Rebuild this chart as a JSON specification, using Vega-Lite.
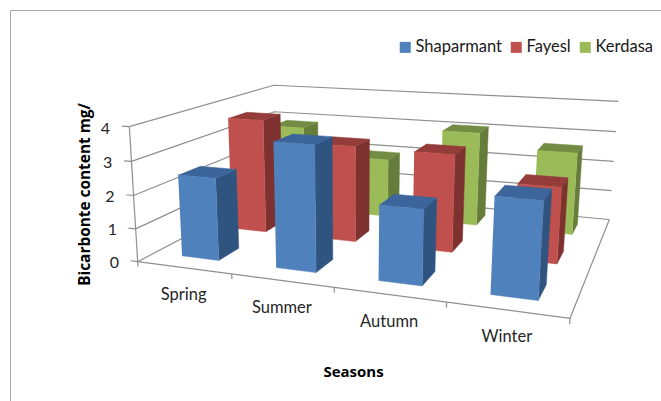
{
  "$schema": "https://vega.github.io/schema/vega-lite/v6.json",
  "width": 651,
  "height": 391,
  "autosize": "none",
  "padding": {"left": 10, "top": 10, "right": 0, "bottom": 0},
  "background": "white",
  "view": {"stroke": "#a6a6a6", "strokeWidth": 1, "fill": "white"},
  "config": {"font": "Lato"},
  "datasets": {
    "bars": [
      {"season": "Spring", "series": "Kerdasa", "value": 2.88},
      {"season": "Summer", "series": "Kerdasa", "value": 1.97},
      {"season": "Autumn", "series": "Kerdasa", "value": 3.08},
      {"season": "Winter", "series": "Kerdasa", "value": 2.64},
      {"season": "Spring", "series": "Fayesl", "value": 3.65},
      {"season": "Summer", "series": "Fayesl", "value": 3.02},
      {"season": "Autumn", "series": "Fayesl", "value": 2.99},
      {"season": "Winter", "series": "Fayesl", "value": 2.27},
      {"season": "Spring", "series": "Shaparmant", "value": 2.47},
      {"season": "Summer", "series": "Shaparmant", "value": 3.66},
      {"season": "Autumn", "series": "Shaparmant", "value": 2.14},
      {"season": "Winter", "series": "Shaparmant", "value": 2.66}
    ],
    "ticks": [{"tick": 0}, {"tick": 1}, {"tick": 2}, {"tick": 3}, {"tick": 4}]
  },
  "encoding": {
    "x": {"field": "sx", "type": "quantitative", "scale": {"domain": [10, 661], "nice": false, "zero": false},
      "axis": {"domain": false, "ticks": false, "labels": false, "grid": false, "title": "Seasons", "titleFont": "Open Sans", "titleFontSize": 15, "titleFontWeight": "bold", "titleColor": "#000000", "titleX": 343, "titleY": -37, "titleAnchor": "middle", "titleAlign": "center"}},
    "y": {"field": "sy", "type": "quantitative", "scale": {"domain": [401, 10], "nice": false, "zero": false},
      "axis": {"domain": false, "ticks": false, "labels": false, "grid": false, "title": "Bicarbonte content mg/", "titleFont": "Open Sans", "titleFontSize": 15.4, "titleFontWeight": "bold", "titleColor": "#000000", "titleX": 82, "titleY": 184, "titleAngle": 270, "titleAlign": "center"}}
  },
  "layer": [
    {
      "data": {"name": "ticks"},
      "transform": [
        {"calculate": "[{s:'wall',p:0,x:0,z:0,v:datum.tick},{s:'wall',p:1,x:0,z:1,v:datum.tick},{s:'wall',p:2,x:1,z:1,v:datum.tick},{s:'vtick',p:0,x:0,z:0,v:datum.tick},{s:'vtick',p:1,x:-0.02,z:0,v:datum.tick},{s:'xtick',p:0,x:datum.tick/4,z:0,v:0},{s:'xtick',p:1,x:datum.tick/4,z:0,v:-0.15},{s:'axis',p:0,x:0,z:0,v:0},{s:'axis',p:1,x:0,z:0,v:4},{s:'floor',p:0,x:0,z:0,v:0},{s:'floor',p:1,x:1,z:0,v:0},{s:'floor',p:2,x:1,z:1,v:0}]", "as": "seg"},
        {"flatten": ["seg"]},
        {"filter": "(datum.seg.s!='floor'&&datum.seg.s!='axis')||datum.tick==0"},
        {"calculate": "datum.seg.s+datum.tick", "as": "key"},
        {"calculate": "datum.seg.p", "as": "p"},
        {"calculate": "datum.seg.x", "as": "px"},
        {"calculate": "datum.seg.z", "as": "pz"},
        {"calculate": "datum.seg.v", "as": "pv"},
        {"calculate": "1-0.166*datum.px+0.3165*datum.pz-0.009455*datum.pv", "as": "w"},
        {"calculate": "(137.7+337.7*datum.px+225.7*datum.pz-3.319*datum.pv)/datum.w", "as": "sx"},
        {"calculate": "(261.7+3.76*datum.px-12.9*datum.pz-34.95*datum.pv)/datum.w", "as": "sy"}
      ],
      "mark": {"type": "line", "stroke": "#8f8f8f", "strokeWidth": 1.2, "clip": false},
      "encoding": {
        "detail": {"field": "key"},
        "order": {"field": "p", "type": "quantitative"}
      }
    },
    {
      "data": {"name": "bars"},
      "transform": [
        {"calculate": "indexof(['Spring','Summer','Autumn','Winter'],datum.season)", "as": "i"},
        {"calculate": "indexof(['Shaparmant','Fayesl','Kerdasa'],datum.series)", "as": "j"},
        {"calculate": "[{f:'side',k:0,a:1,b:0,c:0},{f:'side',k:1,a:1,b:1,c:0},{f:'side',k:2,a:1,b:1,c:1},{f:'side',k:3,a:1,b:0,c:1},{f:'top',k:0,a:0,b:0,c:1},{f:'top',k:1,a:1,b:0,c:1},{f:'top',k:2,a:1,b:1,c:1},{f:'top',k:3,a:0,b:1,c:1},{f:'front',k:0,a:0,b:0,c:0},{f:'front',k:1,a:1,b:0,c:0},{f:'front',k:2,a:1,b:0,c:1},{f:'front',k:3,a:0,b:0,c:1}]", "as": "corner"},
        {"flatten": ["corner"]},
        {"calculate": "datum.corner.k", "as": "k"},
        {"calculate": "datum.series+' '+datum.corner.f", "as": "shade"},
        {"calculate": "datum.season+' '+datum.series+' '+datum.corner.f", "as": "face"},
        {"calculate": "(datum.i+0.3+0.4*datum.corner.a)/4", "as": "px"},
        {"calculate": "(datum.j+0.3+0.4*datum.corner.b)/3", "as": "pz"},
        {"calculate": "datum.value*datum.corner.c", "as": "pv"},
        {"calculate": "1-0.166*datum.px+0.3165*datum.pz-0.009455*datum.pv", "as": "w"},
        {"calculate": "(137.7+337.7*datum.px+225.7*datum.pz-3.319*datum.pv)/datum.w", "as": "sx"},
        {"calculate": "(261.7+3.76*datum.px-12.9*datum.pz-34.95*datum.pv)/datum.w", "as": "sy"}
      ],
      "mark": {"type": "line", "strokeWidth": 0.5, "clip": false},
      "encoding": {
        "detail": {"field": "face"},
        "order": {"field": "k", "type": "quantitative"},
        "fill": {"field": "shade", "type": "nominal", "legend": null,
          "scale": {
            "domain": ["Shaparmant front", "Shaparmant side", "Shaparmant top", "Fayesl front", "Fayesl side", "Fayesl top", "Kerdasa front", "Kerdasa side", "Kerdasa top"],
            "range": ["#4f81bd", "#2f5480", "#3b659b", "#c0504d", "#7d3230", "#933c3a", "#9bbb59", "#667c3a", "#728c43"]
          }},
        "stroke": {"field": "shade", "type": "nominal", "legend": null,
          "scale": {
            "domain": ["Shaparmant front", "Shaparmant side", "Shaparmant top", "Fayesl front", "Fayesl side", "Fayesl top", "Kerdasa front", "Kerdasa side", "Kerdasa top"],
            "range": ["#4f81bd", "#2f5480", "#3b659b", "#c0504d", "#7d3230", "#933c3a", "#9bbb59", "#667c3a", "#728c43"]
          }}
      }
    },
    {
      "data": {"name": "ticks"},
      "transform": [
        {"calculate": "1+0.01079-0.009455*datum.tick", "as": "w"},
        {"calculate": "(137.7-21.95-3.319*datum.tick)/datum.w", "as": "sx"},
        {"calculate": "(261.7-0.244-34.95*datum.tick)/datum.w", "as": "sy"}
      ],
      "mark": {"type": "text", "font": "Lato", "fontSize": 16, "color": "#262626", "align": "center", "baseline": "middle", "dy": 4, "clip": false},
      "encoding": {"text": {"field": "tick", "type": "nominal"}}
    },
    {
      "data": {"name": "bars"},
      "transform": [
        {"filter": "datum.series=='Shaparmant'"},
        {"calculate": "(indexof(['Spring','Summer','Autumn','Winter'],datum.season)+0.5)/4", "as": "px"},
        {"calculate": "1-0.166*datum.px", "as": "w"},
        {"calculate": "(137.7+337.7*datum.px)/datum.w", "as": "sx"},
        {"calculate": "(261.7+3.76*datum.px)/datum.w", "as": "sy"}
      ],
      "mark": {"type": "text", "font": "Lato", "fontSize": 16.5, "color": "#262626", "align": "center", "baseline": "middle", "dy": 27, "clip": false},
      "encoding": {"text": {"field": "season", "type": "nominal"}}
    },
    {
      "data": {"name": "bars"},
      "transform": [
        {"filter": "datum.value<0"},
        {"calculate": "0", "as": "sx"},
        {"calculate": "0", "as": "sy"}
      ],
      "mark": {"type": "square", "opacity": 1},
      "encoding": {
        "color": {"field": "series", "type": "nominal",
          "scale": {"domain": ["Shaparmant", "Fayesl", "Kerdasa"], "range": ["#4f81bd", "#c0504d", "#9bbb59"]},
          "legend": {"title": null, "orient": "none", "legendX": 387, "legendY": 29, "direction": "horizontal", "symbolType": "square", "symbolSize": 121, "symbolStrokeWidth": 0, "symbolOpacity": 1, "labelFont": "Lato", "labelFontSize": 16.5, "labelColor": "#1a1a1a", "columnPadding": 6, "labelOffset": 2, "labelLimit": 200, "columns": 3}
        }
      }
    }
  ],
  "resolve": {"scale": {"fill": "independent"}}
}
